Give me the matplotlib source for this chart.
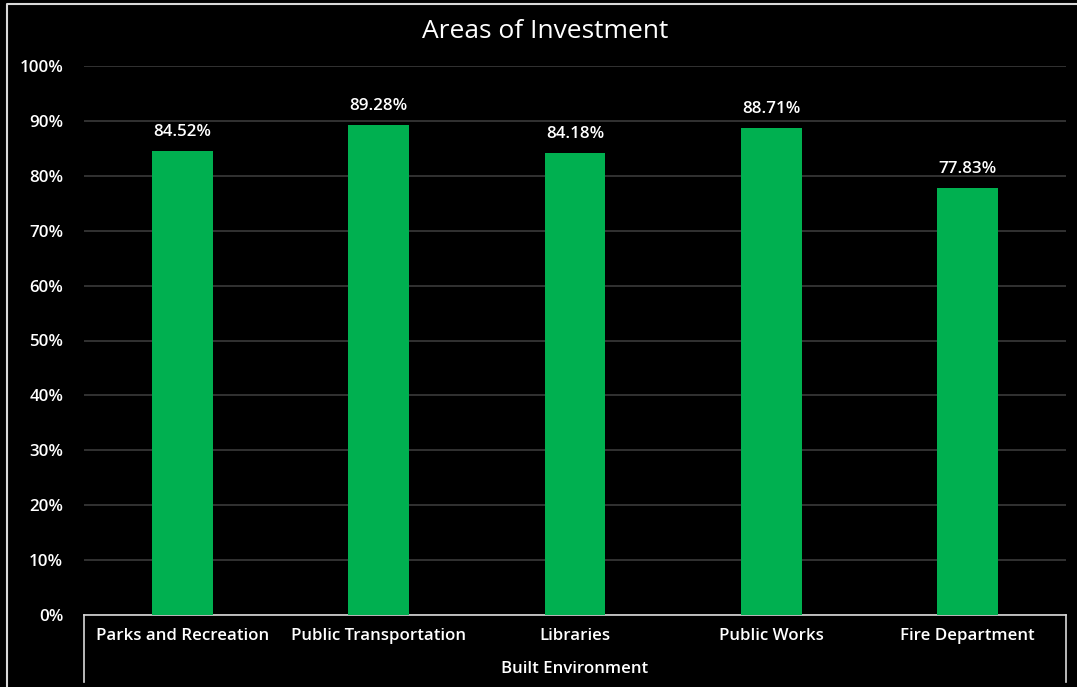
import matplotlib
matplotlib.use("Agg")
import matplotlib.pyplot as plt
from matplotlib.lines import Line2D

categories = ["Parks and Recreation", "Public Transportation", "Libraries", "Public Works", "Fire Department"]
values = [84.52, 89.28, 84.18, 88.71, 77.83]
group_label = "Built Environment"
yticks = [0, 10, 20, 30, 40, 50, 60, 70, 80, 90, 100]
title = "Areas of Investment"

W, H = 1077, 687
fig = plt.figure(figsize=(W / 100, H / 100), dpi=100, facecolor="black")
L, R, T, B = 84, 1066, 66, 615
ax = fig.add_axes([L / W, 1 - B / H, (R - L) / W, (B - T) / H])
ax.set_facecolor("black")

font = "Open Sans"
fs = 12.2
x = list(range(len(categories)))
ax.bar(x, values, width=0.31, color="#00B050", zorder=3)
ax.set_xlim(-0.5, len(categories) - 0.5)
ax.set_ylim(0, 100)
ax.set_yticks(yticks)
ax.set_yticklabels([f"{t}%" for t in yticks], color="white", fontsize=fs,
                   fontfamily=font, fontweight="semibold")
ax.tick_params(axis="y", length=0, pad=15)
ax.set_xticks([])
for s in ["top", "right", "left"]:
    ax.spines[s].set_visible(False)
ax.spines["bottom"].set_color("#d9d9d9")
ax.spines["bottom"].set_linewidth(1.2)
ax.grid(axis="y", color="#3a3a3a", linewidth=1.2, zorder=0)

for xi, v in zip(x, values):
    ax.text(xi, v + 2.0, f"{v:.2f}%", ha="center", va="bottom", color="white",
            fontsize=fs, fontfamily=font, fontweight="semibold")

for xi, c in zip(x, categories):
    ax.text(xi, -3.9, c, ha="center", va="center", color="white", fontsize=fs,
            fontfamily=font, fontweight="semibold", transform=ax.transData, clip_on=False)

# category group box
def fy(py):
    return 1 - py / H
for px in (L, R):
    fig.add_artist(Line2D([px / W, px / W], [fy(B), fy(682)], color="#d9d9d9", linewidth=1.2))
fig.text((L + R) / 2 / W, fy(669), group_label, ha="center", va="center", color="white",
         fontsize=fs, fontfamily=font, fontweight="semibold")

fig.text(545 / W, fy(31), title, ha="center", va="center", color="white", fontsize=19,
         fontfamily=font)

# outer border (left and top only)
fig.add_artist(Line2D([7 / W, 7 / W, 1077 / W], [fy(687), fy(3.5), fy(3.5)], color="#d9d9d9",
                      linewidth=1.5, solid_capstyle="butt"))

fig.savefig("out.png", dpi=100, facecolor="black")
